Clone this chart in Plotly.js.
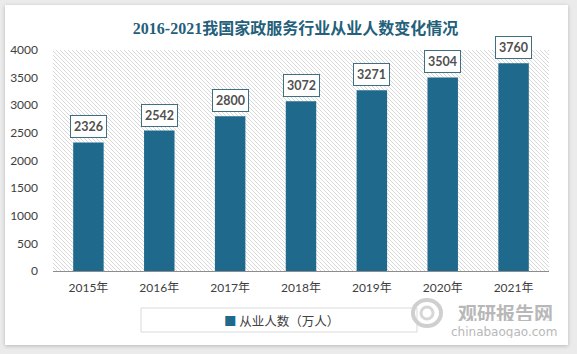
<!DOCTYPE html>
<html>
<head>
<meta charset="utf-8">
<script src="https://cdn.plot.ly/plotly-3.0.1.min.js"></script>
<style>
html,body{margin:0;padding:0;background:#ebebeb;width:577px;height:354px;overflow:hidden;}
#card{position:absolute;left:5px;top:5px;width:563px;height:340px;background:#fff;box-shadow:0 1px 4px rgba(0,0,0,0.22);}
#chart{position:absolute;left:0;top:0;width:577px;height:354px;}
</style>
</head>
<body>
<div id="card"></div>
<div id="chart"></div>
<script>
var categories = ['2015年','2016年','2017年','2018年','2019年','2020年','2021年'];
var values = [2326, 2542, 2800, 3072, 3271, 3504, 3760];
var seriesName = '从业人数（万人）';
var titleText = '2016-2021我国家政服务行业从业人数变化情况';

var L = 53, R = 549, T = 50, B = 271;
var W = R - L, H = B - T;
function px(x) { return (x - L) / W; }
function py(y) { return (B - y) / H; }

var lines = '';
for (var k = -H; k < W + H; k += 4) {
  lines += '<line x1="' + k + '" y1="0" x2="' + (k + H) + '" y2="' + H + '" stroke="#d9d9d9" stroke-width="1"/>';
}
var svg = '<svg xmlns="http://www.w3.org/2000/svg" width="' + W + '" height="' + H + '" viewBox="0 0 ' + W + ' ' + H + '" preserveAspectRatio="none">' + lines + '</svg>';
var hatch = 'data:image/svg+xml;base64,' + btoa(svg);

var annotations = categories.map(function (c, i) {
  return {
    x: c, y: values[i], xref: 'x', yref: 'y', text: String(values[i]),
    showarrow: false, yanchor: 'bottom', yshift: 4,
    bgcolor: '#ffffff', bordercolor: '#3f6f82', borderwidth: 1, borderpad: 3,
    font: {family: 'Lato, "Noto Sans", sans-serif', size: 12.5, color: '#505050', weight: 'bold'}
  };
});
// legend entry (drawn as text with its colour key)
annotations.push({
  xref: 'paper', yref: 'paper', x: px(222), y: py(320),
  text: '<span style="color:#1f6a8c">■</span> ' + seriesName, showarrow: false,
  xanchor: 'left', yanchor: 'middle',
  font: {family: '"Noto Sans CJK SC", sans-serif', size: 12.5, color: '#404040'}
});
// watermark
annotations.push({
  xref: 'paper', yref: 'paper', x: px(505.5), y: py(312),
  text: '<b>观研报告网</b>', showarrow: false, xanchor: 'center', yanchor: 'middle',
  height: 18,
  font: {family: '"Noto Sans CJK SC", sans-serif', size: 19, color: '#b8b8b8'}
});
annotations.push({
  xref: 'paper', yref: 'paper', x: px(503.5), y: py(331),
  text: 'chinabaogao.com', showarrow: false, xanchor: 'center', yanchor: 'middle',
  height: 13,
  font: {family: '"DejaVu Sans", sans-serif', size: 12, color: '#b8b8b8'}
});

var trace = {
  type: 'bar', x: categories, y: values, name: seriesName,
  marker: {color: '#1f6a8c'}, hoverinfo: 'skip', showlegend: false
};

var layout = {
  width: 577, height: 354,
  margin: {l: L, r: 577 - R, t: T, b: 354 - B},
  paper_bgcolor: 'rgba(0,0,0,0)', plot_bgcolor: 'rgba(0,0,0,0)',
  bargap: 0.57,
  title: {
    text: '<b>' + titleText + '</b>', xref: 'container', yref: 'container',
    x: 295.5 / 577, y: 1 - 28 / 354, xanchor: 'center', yanchor: 'middle',
    font: {family: '"Liberation Serif", "Noto Sans CJK SC", serif', size: 16, color: '#24607a'}
  },
  xaxis: {
    type: 'category', showgrid: false, showline: true, linecolor: '#8c8c8c', linewidth: 1,
    ticks: '', ticklabelstandoff: 6,
    tickfont: {family: 'Lato, "Noto Sans CJK SC", sans-serif', size: 12, color: '#404040'}
  },
  yaxis: {
    range: [0, 4000], dtick: 500, showgrid: false, zeroline: false, showline: false,
    ticks: '', ticklabelstandoff: 14,
    tickfont: {family: 'Lato, "Noto Sans", sans-serif', size: 12, color: '#404040'}
  },
  showlegend: false,
  images: [{
    source: hatch, xref: 'paper', yref: 'paper', x: 0, y: 1, sizex: 1, sizey: 1,
    xanchor: 'left', yanchor: 'top', sizing: 'stretch', layer: 'below'
  }],
  shapes: [{
    type: 'rect', xref: 'paper', yref: 'paper',
    x0: px(141), x1: px(417), y0: py(308), y1: py(332),
    line: {color: '#d9d9d9', width: 1}, fillcolor: 'rgba(0,0,0,0)'
  }, {
    type: 'circle', xref: 'paper', yref: 'paper',
    x0: px(413), x1: px(441), y0: py(300), y1: py(326),
    line: {color: '#cfcfcf', width: 4}, fillcolor: 'rgba(0,0,0,0)'
  }, {
    type: 'circle', xref: 'paper', yref: 'paper',
    x0: px(421), x1: px(433), y0: py(307), y1: py(319),
    line: {color: '#d6d6d6', width: 3}, fillcolor: 'rgba(0,0,0,0)'
  }],
  annotations: annotations
};

Plotly.newPlot('chart', [trace], layout, {displayModeBar: false, staticPlot: true});
</script>
</body>
</html>
